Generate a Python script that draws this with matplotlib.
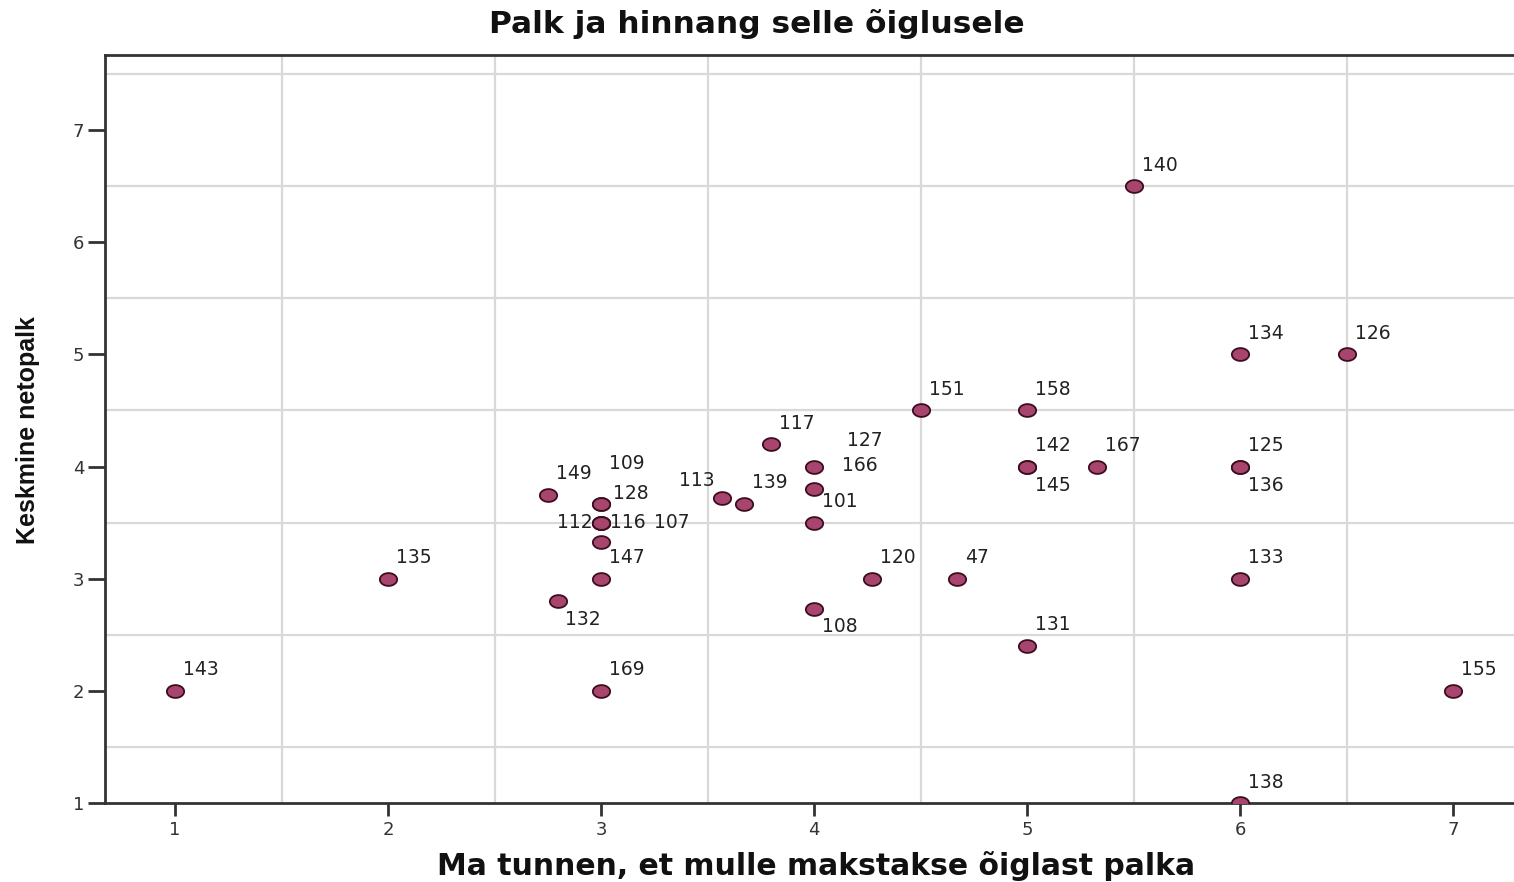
import numpy as np
import matplotlib
matplotlib.use('Agg')
import matplotlib.pyplot as plt
from matplotlib.path import Path

# andmed: x = hinnang õiglusele, y = keskmine netopalk, id = vastaja nr
x_vals = [1, 2, 2.75, 3, 3, 3, 3, 3, 3, 3, 2.8, 3,
          3.57, 3.67, 3.8, 4, 4, 4, 4, 4.27, 4.67,
          4.5, 5, 5, 5, 5.33, 5, 5.5, 6, 6.5, 6, 6, 6, 6, 7]
y_vals = [2, 3, 3.75, 3.67, 3.67, 3.5, 3.5, 3.5, 3.33, 3, 2.8, 2,
          3.72, 3.67, 4.2, 4, 3.8, 3.5, 2.73, 3, 3,
          4.5, 4.5, 4, 4, 4, 2.4, 6.5, 5, 5, 4, 4, 3, 1, 2]
ids = ['143', '135', '149', '128', '109', '112', '116', '107', '', '147', '132', '169',
       '113', '139', '117', '127', '166', '101', '108', '120', '47',
       '151', '158', '142', '145', '167', '131', '140', '134', '126', '125', '136', '133', '138', '155']

# sildi nihked pikslites (vaikimisi paremal üleval)
label_offsets = {
    '128': (12, 10, 'left'), '109': (8, 40, 'left'),
    '112': (-8, 0, 'right'), '116': (9, 0, 'left'), '107': (53, 0, 'left'),
    '132': (7, -18, 'left'), '113': (-8, 17, 'right'),
    '127': (33, 26, 'left'), '166': (28, 23, 'left'),
    '108': (8, -18, 'left'), '145': (8, -19, 'left'), '136': (8, -19, 'left'),
}

fill_col = '#a8456f'
edge_col = '#3b0d1f'
grid_col = '#d9d9d9'
axis_col = '#333333'

plt.rcParams['font.family'] = ['DejaVu Sans']

fig = plt.figure(figsize=(15.14, 8.82), dpi=100)
ax = fig.add_axes([105 / 1514, 79 / 882, 1 - 105 / 1514, (803 - 55) / 882])

# elliptiline marker nagu originaalis
t = np.linspace(0, 2 * np.pi, 60)
ell = Path(np.column_stack([np.cos(t), 0.74 * np.sin(t)]), closed=True)

ax.scatter(x_vals, y_vals, marker=ell, s=155, facecolor=fill_col,
           edgecolor=edge_col, linewidth=1.3, zorder=3)

for xv, yv, lab in zip(x_vals, y_vals, ids):
    if not lab:
        continue
    dx, dy, ha = label_offsets.get(lab, (8, 21, 'left'))
    ax.annotate(lab, (xv, yv), xytext=(dx, dy), textcoords='offset pixels',
                ha=ha, va='center', fontsize=13.5, color='#222222', zorder=4,
                annotation_clip=False)

ax.set_xlim(0.671, 7.286)
ax.set_ylim(1.0, 7.669)
ax.set_xticks(range(1, 8))
ax.set_yticks(range(1, 8))
ax.set_xticks(np.arange(1.5, 7.5, 1), minor=True)
ax.set_yticks(np.arange(1.5, 8.0, 1), minor=True)
ax.grid(which='minor', color=grid_col, linewidth=1.6)
ax.grid(which='major', visible=False)
ax.set_axisbelow(True)
ax.tick_params(which='minor', length=0)
ax.tick_params(axis='y', which='major', length=12, width=2, color=axis_col,
               labelsize=13, labelcolor='#333333', pad=3)
ax.tick_params(axis='x', which='major', length=9, width=2, color=axis_col,
               labelsize=13, labelcolor='#333333', pad=4)

for s in ['left', 'bottom', 'top']:
    ax.spines[s].set_color(axis_col)
    ax.spines[s].set_linewidth(2)
ax.spines['right'].set_visible(False)

fig.text(757 / 1514, 1 - 24 / 882, 'Palk ja hinnang selle õiglusele',
         ha='center', va='center', fontsize=22.5, fontweight='bold', color='#111111')
fig.text(816 / 1514, 1 - 866 / 882, 'Ma tunnen, et mulle makstakse õiglast palka',
         ha='center', va='center', fontsize=21.5, fontweight='bold', color='#111111')
fig.text(28 / 1514, 1 - 430 / 882, 'Keskmine netopalk', rotation=90,
         ha='center', va='center', fontsize=18, fontweight='bold', color='#111111',
         family=['Liberation Sans Narrow', 'Liberation Sans'])

fig.savefig('out.png', dpi=100)
